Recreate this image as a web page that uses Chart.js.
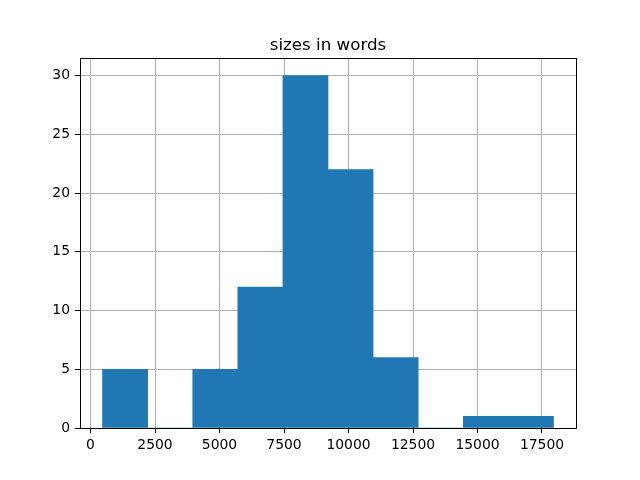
<!DOCTYPE html>
<html>
<head>
<meta charset="utf-8">
<script src="https://cdn.jsdelivr.net/npm/chart.js@4/dist/chart.umd.min.js"></script>
<style>
  html, body { margin: 0; padding: 0; background: #fff; }
  #wrap { width: 640px; height: 480px; }
</style>
</head>
<body>
<div id="wrap"><canvas id="c" width="640" height="480"></canvas></div>
<script>
const chartTitle = "sizes in words";
const binEdges = [466, 2214, 3962, 5710, 7457, 9205, 10953, 12701, 14449, 16196, 17944];
const binCounts = [5, 0, 5, 12, 30, 22, 6, 0, 1, 1];
const xTickValues = [0, 2500, 5000, 7500, 10000, 12500, 15000, 17500];
const yTickValues = [0, 5, 10, 15, 20, 25, 30];

const points = binCounts.map((c, i) => ({ x: (binEdges[i] + binEdges[i + 1]) / 2, y: c }));
const span = binEdges[binEdges.length - 1] - binEdges[0];
const xMin = binEdges[0] - span * 0.05;
const xMax = binEdges[binEdges.length - 1] + span * 0.05;
const yMax = Math.max(...binCounts) * 1.05;

const FONT = "'DejaVu Sans', sans-serif";

const framePlugin = {
  id: 'frame',
  afterDraw(chart) {
    const { ctx, chartArea: a } = chart;
    ctx.save();
    ctx.strokeStyle = '#000';
    ctx.lineWidth = 1;
    ctx.strokeRect(Math.round(a.left) + 0.5, Math.round(a.top) + 0.5,
                   Math.round(a.right - a.left), Math.round(a.bottom - a.top));
    // title centred over the plot area
    ctx.fillStyle = '#000';
    ctx.font = "16.7px " + FONT;
    ctx.textAlign = 'center';
    ctx.textBaseline = 'alphabetic';
    ctx.fillText(chartTitle, (a.left + a.right) / 2, a.top - 8.5);
    ctx.restore();
  }
};

new Chart(document.getElementById('c'), {
  type: 'bar',
  data: {
    datasets: [{
      data: points,
      backgroundColor: '#1f77b4',
      borderWidth: 0,
      barPercentage: 1.0,
      categoryPercentage: 1.0,
      grouped: false
    }]
  },
  options: {
    responsive: false,
    animation: false,
    layout: { padding: { left: 0, right: 64, top: 58, bottom: 0 } },
    plugins: {
      legend: { display: false },
      tooltip: { enabled: false },
      title: { display: false }
    },
    scales: {
      x: {
        type: 'linear',
        offset: false,
        min: xMin,
        max: xMax,
        z: 1,
        afterBuildTicks: (s) => { s.ticks = xTickValues.map(v => ({ value: v })); },
        afterFit: (s) => { s.height = 52; },
        ticks: {
          color: '#000',
          font: { family: FONT, size: 13.9 },
          padding: 4,
          maxRotation: 0,
          autoSkip: false,
          callback: (v) => String(v)
        },
        grid: {
          offset: false,
          color: '#b0b0b0',
          lineWidth: 1,
          tickColor: '#000',
          tickLength: 5,
          drawTicks: true
        },
        border: { display: false }
      },
      y: {
        type: 'linear',
        min: 0,
        max: yMax,
        z: 1,
        afterBuildTicks: (s) => { s.ticks = yTickValues.map(v => ({ value: v })); },
        afterFit: (s) => { s.width = 80; },
        ticks: {
          color: '#000',
          font: { family: FONT, size: 13.9 },
          padding: 5,
          autoSkip: false,
          callback: (v) => String(v)
        },
        grid: {
          color: '#b0b0b0',
          lineWidth: 1,
          tickColor: '#000',
          tickLength: 5,
          drawTicks: true
        },
        border: { display: false }
      }
    }
  },
  plugins: [framePlugin]
});
</script>
</body>
</html>
